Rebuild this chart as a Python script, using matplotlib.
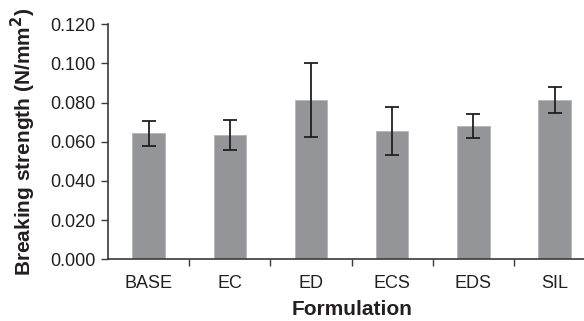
import matplotlib.pyplot as plt
import numpy as np

plt.rcParams['font.family'] = ['Liberation Sans', 'DejaVu Sans']

formulations = ['BASE', 'EC', 'ED', 'ECS', 'EDS', 'SIL']
strength = [0.0643, 0.0634, 0.0812, 0.0654, 0.0681, 0.0812]
strength_err = [0.0063, 0.0077, 0.0190, 0.0123, 0.0062, 0.0066]

fig = plt.figure(figsize=(5.84, 3.21), dpi=100)
ax = fig.add_axes([0.185, 0.192, 1.019 - 0.185, 0.733])

index = np.arange(len(formulations))
ax.bar(index, strength, 0.4, color='#939598', edgecolor='#b4b5b8', linewidth=0.6,
       yerr=strength_err, capsize=5,
       error_kw={'ecolor': '#231f20', 'elinewidth': 1.3, 'capthick': 1.3})

ax.set_xlim(-0.5, len(formulations) - 0.5)
ax.set_ylim(0, 0.120)
ax.set_yticks(np.arange(0, 0.121, 0.02))
ax.set_yticklabels(['%.3f' % v for v in np.arange(0, 0.121, 0.02)])
ax.set_xticks(index)
ax.set_xticklabels(formulations)
ax.set_xticks(index[:-1] + 0.5, minor=True)
ax.tick_params(axis='x', which='major', length=0, pad=11, labelsize=13, colors='#231f20')
ax.tick_params(axis='x', which='minor', length=5, width=1, color='#3a3a3a')
ax.tick_params(axis='y', length=5, width=1, color='#3a3a3a', pad=4, labelsize=13,
               labelcolor='#231f20')

for s in ['top', 'right']:
    ax.spines[s].set_visible(False)
for s in ['left', 'bottom']:
    ax.spines[s].set_color('#3a3a3a')
    ax.spines[s].set_linewidth(1.2)

ax.set_xlabel('Formulation', fontsize=15, fontweight='bold', color='#231f20', labelpad=6)
ax.set_ylabel('Breaking strength (N/mm$^\\mathbf{2}$)', fontsize=15, fontweight='bold',
              color='#231f20', labelpad=9)

fig.savefig('out.png', dpi=100)
